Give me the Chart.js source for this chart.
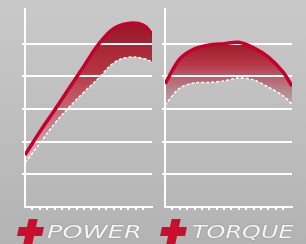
<!DOCTYPE html>
<html><head><meta charset="utf-8">
<script src="https://cdn.jsdelivr.net/npm/chart.js@4.4.0/dist/chart.umd.min.js"></script>
<style>
html,body{margin:0;padding:0;}
#wrap{position:relative;width:306px;height:244px;overflow:hidden;background:linear-gradient(#c9c9c9,#b3b3b3);}
canvas{position:absolute;left:0;top:0;}
.lbl{position:absolute;top:221px;font-family:"DejaVu Sans",sans-serif;font-style:italic;font-size:18px;line-height:22px;color:#f6f6f6;transform-origin:0 0;text-shadow:0 0 1px #8a8a8a,0 0 1px #8a8a8a;white-space:nowrap;}
.cross{position:absolute;top:219px;width:25px;height:25px;transform:skewX(-12deg);}
.cross .v{position:absolute;left:8px;top:0;width:9px;height:25px;background:#c8102e;}
.cross .h{position:absolute;left:0;top:8px;width:25px;height:9px;background:#c8102e;}
</style></head>
<body>
<div id="wrap">
<canvas id="c1" width="306" height="244"></canvas>
<canvas id="c2" width="306" height="244"></canvas>
<div class="cross" style="left:18px"><div class="v"></div><div class="h"></div></div>
<div class="lbl" style="left:47px;transform:scaleX(1.42)">POWER</div>
<div class="cross" style="left:161px"><div class="v"></div><div class="h"></div></div>
<div class="lbl" style="left:192px;transform:scaleX(1.33)">TORQUE</div>
</div>
<script>
// x positions (tick units along the rpm axis)
const xPoints = [0, 2, 4, 6, 8, 10, 12, 14, 16, 17.2];
// Power: tuned (red) and stock (dashed white)
const powerTuned = [1.59, 2.30, 2.96, 3.64, 4.32, 4.99, 5.46, 5.62, 5.57, 5.30];
const powerStock = [1.35, 1.94, 2.55, 3.06, 3.52, 3.95, 4.41, 4.58, 4.55, 4.44];
// Torque: tuned (red) and stock (dashed white)
const torqueTuned = [3.77, 4.53, 4.84, 4.96, 5.00, 5.04, 4.87, 4.59, 4.13, 3.70];
const torqueStock = [3.12, 3.64, 3.80, 3.81, 3.86, 3.95, 3.89, 3.67, 3.40, 3.15];
const yMax = 6.06, xMax = 17.2;

function pts(ys){ return xPoints.map((x,i)=>({x:x,y:ys[i]})); }

function makeChart(id, tuned, stock, pad, gTop, gBot, stops, tension){
  return new Chart(document.getElementById(id), {
    type:'line',
    data:{datasets:[
      {data:pts(tuned), borderColor:'#c6002c', borderWidth:3.5, pointRadius:0, tension:tension,
       fill:'+1',
       backgroundColor:(ctx)=>{
         const ch = ctx.chart; if(!ch.chartArea) return 'rgba(0,0,0,0)';
         const y = ch.scales.y;
         const g = ch.ctx.createLinearGradient(0, y.getPixelForValue(gTop), 0, y.getPixelForValue(gBot));
         stops.forEach(s=>g.addColorStop(s[0], s[1]));
         return g;
       }},
      {data:pts(stock), borderColor:'#ffffff', borderWidth:1.5, borderDash:[3,2], pointRadius:0, tension:tension, fill:false}
    ]},
    options:{
      responsive:false, animation:false, devicePixelRatio:1,
      layout:{padding:pad},
      plugins:{legend:{display:false}, tooltip:{enabled:false}, filler:{drawTime:'beforeDraw'}},
      scales:{
        x:{type:'linear', min:0, max:xMax,
           ticks:{display:false, stepSize:1},
           grid:{drawOnChartArea:false, drawTicks:true, tickLength:3, lineWidth:2,
                 color:(c)=> (c.tick && Number.isInteger(c.tick.value) && c.tick.value>0) ? '#ffffff' : 'rgba(0,0,0,0)'},
           border:{color:'#ffffff', width:2},
           afterFit:(s)=>{s.height=3;}},
        y:{min:0, max:yMax,
           ticks:{display:false, stepSize:1},
           grid:{lineWidth:2, tickLength:3,
                 color:(c)=> (c.tick && Number.isInteger(c.tick.value) && c.tick.value>0) ? '#ffffff' : 'rgba(0,0,0,0)'},
           border:{color:'#ffffff', width:2},
           afterFit:(s)=>{s.width=3;}}
      }
    }
  });
}

makeChart('c1', powerTuned, powerStock, {left:22, right:154, top:9, bottom:34}, 5.7, 1.3,
  [[0,'rgba(150,22,38,1)'],[0.35,'rgba(182,52,66,1)'],[0.7,'rgba(200,110,122,0.9)'],[1,'rgba(236,190,198,0.85)']], 0.4);
makeChart('c2', torqueTuned, torqueStock, {left:162, right:14, top:9, bottom:34}, 5.05, 3.1,
  [[0,'rgba(155,25,40,1)'],[0.35,'rgba(182,55,70,1)'],[0.7,'rgba(180,110,120,0.85)'],[1,'rgba(175,150,155,0.6)']], 0.3);
</script>
</body></html>
